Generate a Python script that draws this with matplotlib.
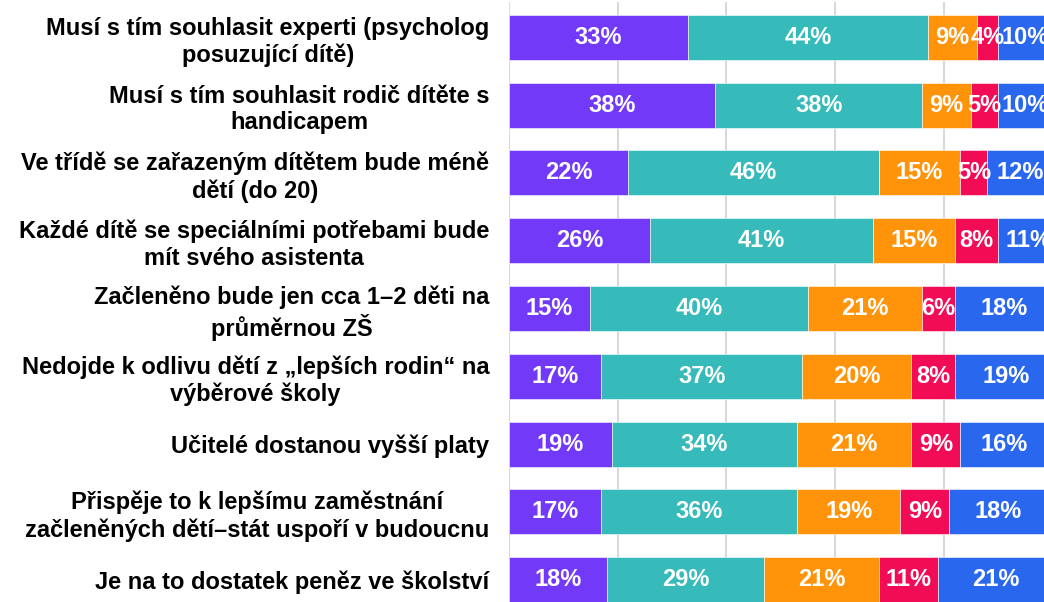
import matplotlib.pyplot as plt
import numpy as np

plt.rcParams['font.family'] = ['Liberation Sans', 'DejaVu Sans']

categories = [
    "Musí s tím souhlasit experti (psycholog\nposuzující dítě)",
    "Musí s tím souhlasit rodič dítěte s\nhandicapem",
    "Ve třídě se zařazeným dítětem bude méně\ndětí (do 20)",
    "Každé dítě se speciálními potřebami bude\nmít svého asistenta",
    "Začleněno bude jen cca 1–2 děti na\nprůměrnou ZŠ",
    "Nedojde k odlivu dětí z „lepších rodin“ na\nvýběrové školy",
    "Učitelé dostanou vyšší platy",
    "Přispěje to k lepšímu zaměstnání\nzačleněných dětí–stát uspoří v budoucnu",
    "Je na to dostatek peněz ve školství",
]

# five answer groups, left to right
s1 = [33, 38, 22, 26, 15, 17, 19, 17, 18]
s2 = [44, 38, 46, 41, 40, 37, 34, 36, 29]
s3 = [9, 9, 15, 15, 21, 20, 21, 19, 21]
s4 = [4, 5, 5, 8, 6, 8, 9, 9, 11]
s5 = [10, 10, 12, 11, 18, 19, 16, 18, 21]

series = [s1, s2, s3, s4, s5]
colors = ['#7239F9', '#36BABA', '#FF940A', '#F20C55', '#2968EE']

W, H = 1044, 602
fig = plt.figure(figsize=(W / 100, H / 100), dpi=100)
# axes runs a bit past the right edge (chart is cropped there)
left_px, right_px = 508.7, 1052.7
top_px, bottom_px = 2, 602
ax = fig.add_axes([left_px / W, 1 - bottom_px / H,
                   (right_px - left_px) / W, (bottom_px - top_px) / H])

y = np.arange(len(categories))
left = np.zeros(len(categories))
for vals, c in zip(series, colors):
    vals = np.array(vals, dtype=float)
    ax.barh(y, vals, left=left, height=0.664, color=c,
            edgecolor='white', linewidth=0.4, zorder=2)
    for yi, l, v in zip(y, left, vals):
        ax.text(l + v / 2, yi, f'{int(v)}%', ha='center', va='center',
                color='white', fontsize=17, fontweight='bold', zorder=3)
    left += vals

ax.set_xlim(0, 100)
ax.set_ylim(8.33, -0.52)
ax.set_xticks([0, 20, 40, 60, 80, 100])
ax.xaxis.grid(True, color='#d9d9d9', linewidth=1.5, zorder=0)
ax.tick_params(axis='x', length=0, labelbottom=False)
ax.tick_params(axis='y', length=0, pad=14)
ax.set_yticks(y)
ax.set_yticklabels(categories, fontsize=17, fontweight='bold',
                   multialignment='center', linespacing=1.2)
for s in ax.spines.values():
    s.set_visible(False)

fig.savefig('out.png', dpi=100)
